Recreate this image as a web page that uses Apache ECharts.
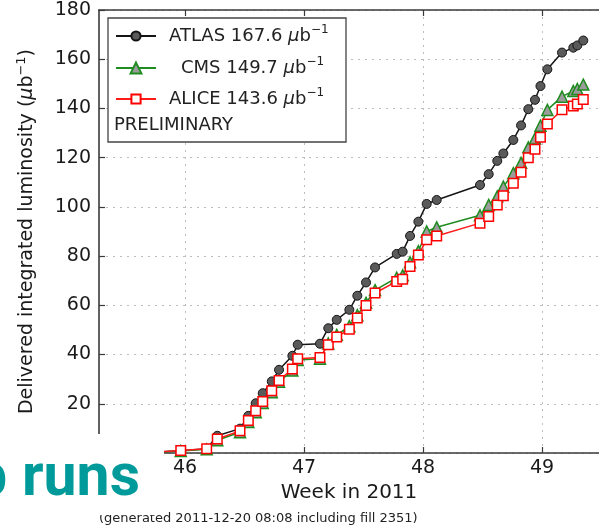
<!DOCTYPE html>
<html><head><meta charset="utf-8">
<script src="https://cdn.jsdelivr.net/npm/echarts@6/dist/echarts.min.js"></script>
<style>html,body{margin:0;padding:0;background:#fff}#c{width:599px;height:525px}</style>
</head><body><div id="c"></div>
<script>
// ---- data ----
const weeks = [45.70, 45.964, 46.182, 46.271, 46.462, 46.532, 46.594, 46.653, 46.729, 46.790, 46.902,
  46.947, 47.134, 47.204, 47.275, 47.381, 47.448, 47.521, 47.597, 47.779, 47.829, 47.891, 47.961,
  48.031, 48.115, 48.479, 48.552, 48.624, 48.675, 48.759, 48.824, 48.885, 48.941, 48.987, 49.045,
  49.168, 49.263, 49.297, 49.347];
const atlas = [0.2, 0.9, 1.7, 7.0, 9.9, 15.1, 20.2, 24.3, 29.1, 33.8, 39.5, 44.0, 44.4, 50.7, 54.1,
  58.2, 63.9, 69.3, 75.4, 80.9, 81.8, 88.2, 94.0, 101.2, 102.8, 108.9, 113.3, 118.7, 121.7, 127.2,
  133.1, 139.7, 143.5, 149.1, 155.9, 162.7, 164.7, 165.6, 167.6];
const cms = [0.2, 0.8, 1.5, 5.2, 8.4, 12.6, 16.6, 20.3, 24.7, 28.9, 33.5, 37.8, 38.3, 44.5, 48.0,
  51.5, 56.0, 61.0, 66.2, 71.2, 72.2, 77.5, 82.0, 90.0, 91.7, 96.6, 100.8, 104.3, 108.2, 113.7,
  117.9, 124.2, 127.8, 133.0, 139.4, 144.8, 147.1, 147.9, 149.7];
const alice = [0.2, 1.0, 1.7, 5.7, 9.0, 13.2, 17.2, 20.9, 25.3, 29.5, 34.1, 38.3, 38.8, 44.0, 47.1,
  50.3, 54.9, 59.9, 65.0, 69.7, 70.6, 75.8, 80.5, 86.6, 88.2, 93.4, 96.1, 100.8, 104.5, 109.6,
  114.1, 120.0, 123.4, 128.3, 133.7, 139.5, 141.0, 141.8, 143.6];
const xTicks = [46, 47, 48, 49];
const seriesNames = ['ATLAS', 'CMS', 'ALICE'];
const legendLabels = ['ATLAS 167.6', '  CMS 149.7', 'ALICE 143.6'];
const xName = 'Week in 2011';
const yName = 'Delivered integrated luminosity ({mu|\u03bc}b{sup|\u22121})';
const footnote = '(generated 2011-12-20 08:08 including fill 2351)';
const overlayText = 'b runs';

const FONT = 'DejaVu Sans';
const chart = echarts.init(document.getElementById('c'), null, {renderer: 'canvas'});
const pairs = arr => weeks.map((w, i) => [w, arr[i]]);
const axisCol = '#3a3a3a';
const gridLine = {show: true, lineStyle: {color: '#bdbdbd', width: 1, type: [2, 5]}};

const legendRich = {
  sp: {width: 8}, sp2: {width: 20},
  t: {fontFamily: FONT, fontSize: 18, lineHeight: 24, color: '#222'},
  mu: {fontFamily: FONT, fontSize: 18, lineHeight: 24, color: '#222', fontStyle: 'italic'},
  sup: {fontFamily: FONT, fontSize: 12, lineHeight: 14, color: '#222', verticalAlign: 'top'}
};
const legendCenters = [36, 68, 99];
const legendIconH = [11.5, 13.5, 11.5];
const legends = seriesNames.map((n, i) => ({
  data: [n], orient: 'vertical', left: 115, top: legendCenters[i] - 12, padding: 0,
  itemWidth: 40, itemHeight: legendIconH[i], selectedMode: false, z: 6,
  formatter: () => (i === 1 ? '{sp2| }{t|CMS 149.7 }' : '{sp| }{t|' + legendLabels[i] + ' }') + '{mu|\u03bc}{t|b}{sup|\u22121}',
  textStyle: {rich: legendRich}
}));

chart.setOption({
  animation: false,
  backgroundColor: '#fff',
  grid: {left: 99, top: 10, right: 0, bottom: 72, containLabel: false},
  legend: legends,
  xAxis: [{
    type: 'value', min: 45.277, max: 49.479, position: 'bottom',
    name: xName, nameLocation: 'middle', nameGap: 25,
    nameTextStyle: {fontFamily: FONT, fontSize: 20, color: '#1a1a1a'},
    axisLine: {show: true, onZero: false, lineStyle: {color: axisCol, width: 1.6}},
    axisTick: {show: true, inside: true, length: 6, customValues: xTicks, lineStyle: {color: axisCol, width: 1.2}},
    axisLabel: {customValues: xTicks, margin: 6, fontFamily: FONT, fontSize: 19, color: '#1a1a1a'},
    splitLine: Object.assign({customValues: xTicks}, gridLine)
  }, {
    type: 'value', min: 45.277, max: 49.479, position: 'top',
    axisLine: {show: true, onZero: false, lineStyle: {color: axisCol, width: 1.6}},
    axisTick: {show: true, inside: true, length: 6, customValues: xTicks, lineStyle: {color: axisCol, width: 1.2}},
    axisLabel: {show: false}, splitLine: {show: false}
  }],
  yAxis: {
    type: 'value', min: 0, max: 180, interval: 20,
    name: yName, nameLocation: 'middle', nameGap: 60,
    nameTextStyle: {fontFamily: FONT, fontSize: 19, lineHeight: 24, color: '#1a1a1a',
      rich: {mu: {fontFamily: FONT, fontSize: 19, lineHeight: 24, fontStyle: 'italic', color: '#1a1a1a'},
             sup: {fontFamily: FONT, fontSize: 13, lineHeight: 14, verticalAlign: 'top', color: '#1a1a1a'}}},
    axisLine: {show: true, lineStyle: {color: axisCol, width: 1.6}},
    axisTick: {show: true, inside: true, length: 6, lineStyle: {color: axisCol, width: 1.2}},
    axisLabel: {margin: 8, fontFamily: FONT, fontSize: 19, color: '#1a1a1a'},
    splitLine: gridLine
  },
  series: [{
    name: 'ATLAS', type: 'line', data: pairs(atlas), symbol: 'circle', symbolSize: 9,
    lineStyle: {color: '#151515', width: 1.5},
    itemStyle: {color: '#5a5a5a', borderColor: '#151515', borderWidth: 1}, z: 2
  }, {
    name: 'CMS', type: 'line', data: pairs(cms), symbol: 'triangle', symbolSize: 11,
    lineStyle: {color: '#1e8c1e', width: 1.5},
    itemStyle: {color: '#9c9c9c', borderColor: '#1e8c1e', borderWidth: 1.5}, z: 3
  }, {
    name: 'ALICE', type: 'line', data: pairs(alice), symbol: 'rect', symbolSize: 9.5,
    lineStyle: {color: '#ff1a1a', width: 1.5},
    itemStyle: {color: '#ffffff', borderColor: '#ff0000', borderWidth: 1.5}, z: 4
  }],
  graphic: [
    {type: 'rect', z: 5, shape: {x: 108, y: 18, width: 238, height: 124},
     style: {fill: '#fff', stroke: '#444', lineWidth: 1.3}},
    {type: 'text', z: 7, x: 114, y: 125,
     style: {text: 'PRELIMINARY', fontFamily: FONT, fontSize: 18, fill: '#222', verticalAlign: 'middle'}},
    {type: 'text', z: 8, x: 99, y: 519,
     style: {text: footnote, fontFamily: FONT, fontSize: 13, fill: '#222', verticalAlign: 'middle'}},
    {type: 'rect', z: 20, shape: {x: 0, y: 434, width: 164, height: 81}, style: {fill: '#fff'}},
    {type: 'text', z: 21, x: 140, y: 480,
     style: {text: overlayText, fontFamily: 'Roboto', fontWeight: 'bold', fontSize: 59, fill: '#009a9a',
             align: 'right', verticalAlign: 'middle'}}
  ]
});
</script>
</body></html>
